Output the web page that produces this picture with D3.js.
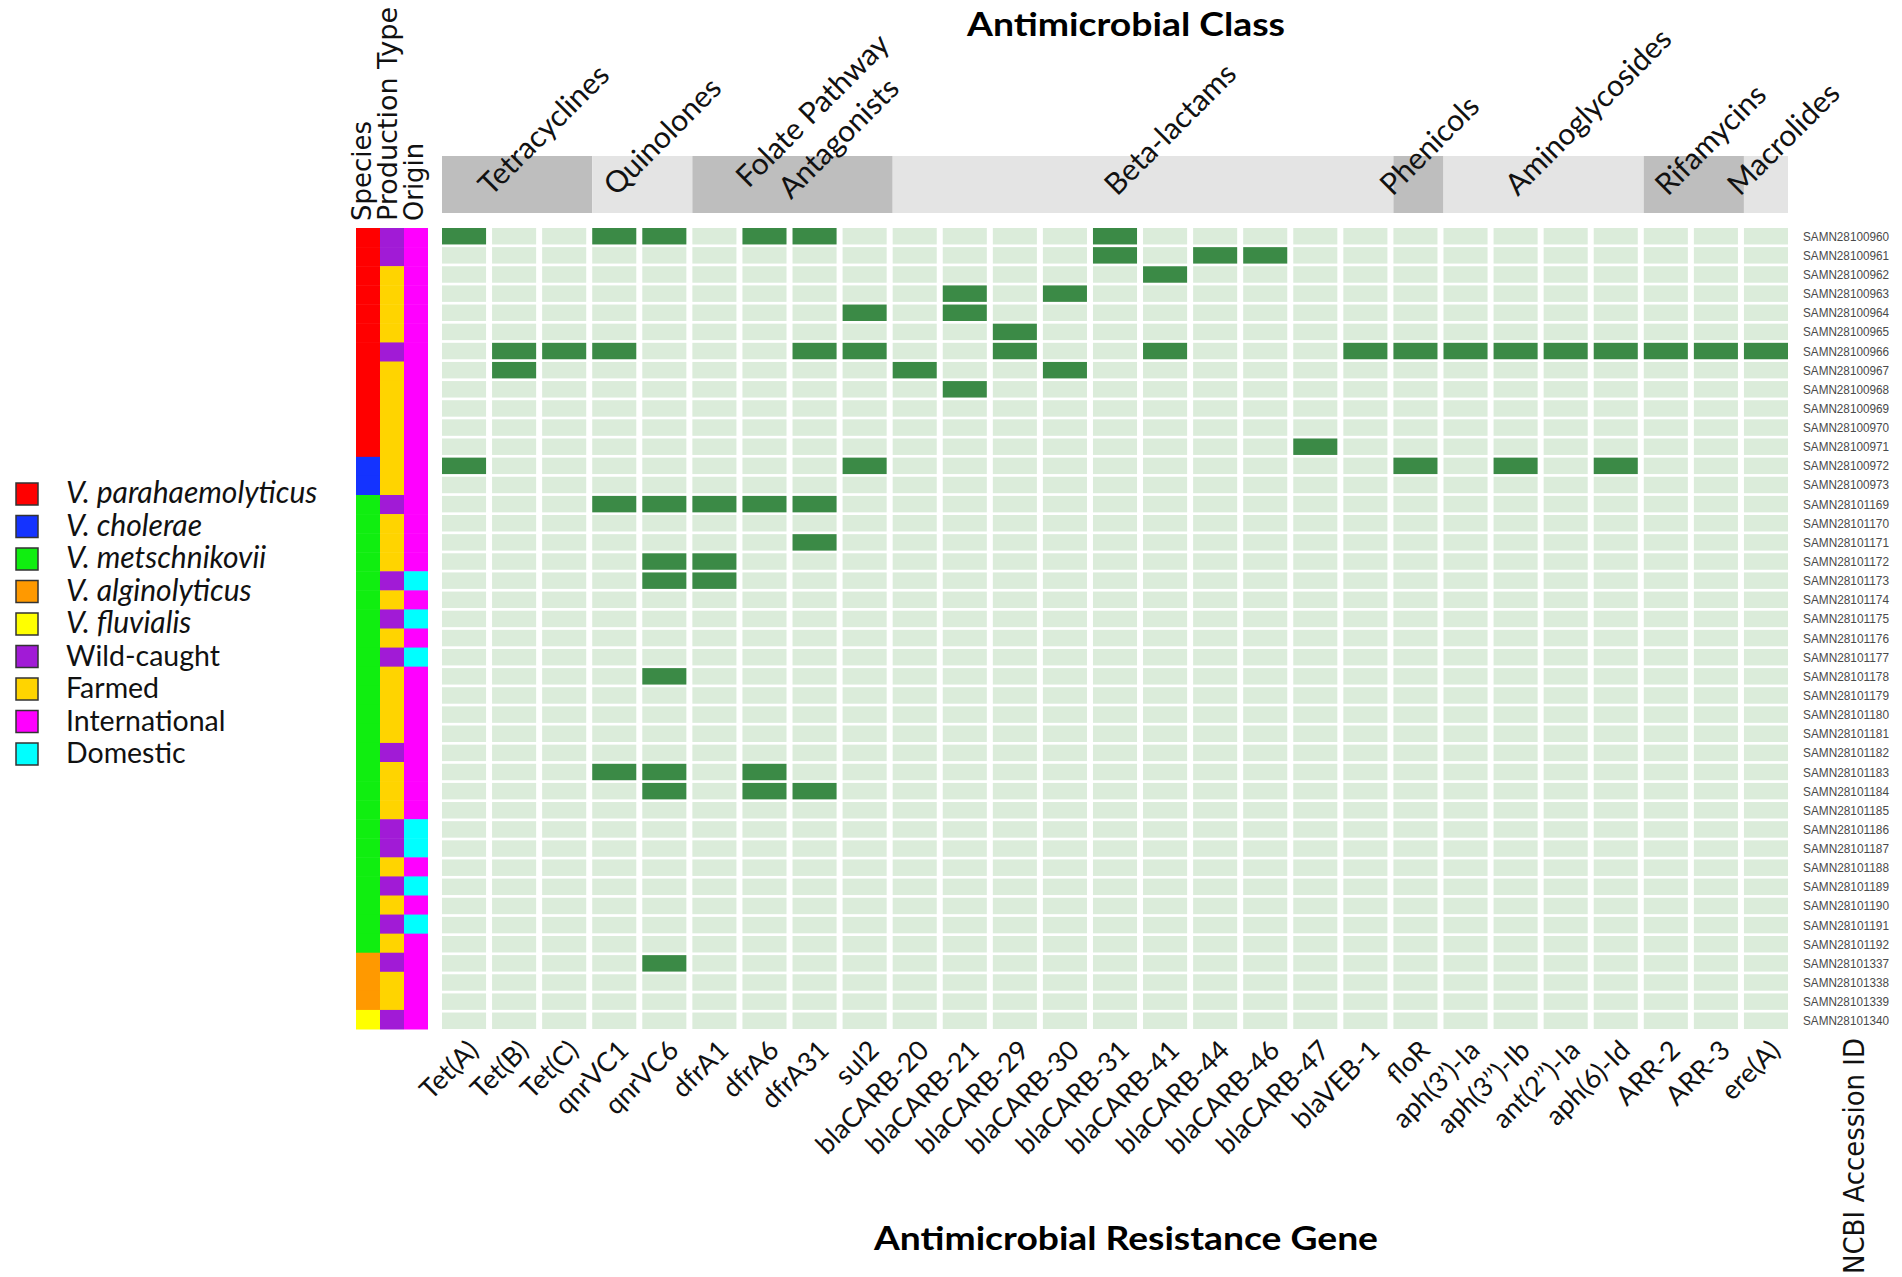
<!DOCTYPE html>
<html><head><meta charset="utf-8">
<script src="https://cdn.jsdelivr.net/npm/d3@7"></script>
<style>html,body{margin:0;padding:0;background:#fff;}svg{display:block;}</style>
</head><body>
<script>
// ---------- data ----------
const genes = ["Tet(A)","Tet(B)","Tet(C)","qnrVC1","qnrVC6","dfrA1","dfrA6","dfrA31","sul2",
  "blaCARB-20","blaCARB-21","blaCARB-29","blaCARB-30","blaCARB-31","blaCARB-41","blaCARB-44",
  "blaCARB-46","blaCARB-47","blaVEB-1","floR","aph(3\u2019)-Ia","aph(3\u2019\u2019)-Ib",
  "ant(2\u2019\u2019)-Ia","aph(6)-Id","ARR-2","ARR-3","ere(A)"];
const classNames = ["Tetracyclines","Quinolones","Folate Pathway|Antagonists","Beta-lactams",
  "Phenicols","Aminoglycosides","Rifamycins","Macrolides"];
const classGeneCounts = [3,2,4,10,1,4,2,1];
const samples = ["SAMN28100960","SAMN28100961","SAMN28100962","SAMN28100963","SAMN28100964",
  "SAMN28100965","SAMN28100966","SAMN28100967","SAMN28100968","SAMN28100969","SAMN28100970",
  "SAMN28100971","SAMN28100972","SAMN28100973","SAMN28101169","SAMN28101170","SAMN28101171",
  "SAMN28101172","SAMN28101173","SAMN28101174","SAMN28101175","SAMN28101176","SAMN28101177",
  "SAMN28101178","SAMN28101179","SAMN28101180","SAMN28101181","SAMN28101182","SAMN28101183",
  "SAMN28101184","SAMN28101185","SAMN28101186","SAMN28101187","SAMN28101188","SAMN28101189",
  "SAMN28101190","SAMN28101191","SAMN28101192","SAMN28101337","SAMN28101338","SAMN28101339",
  "SAMN28101340"];
// species: P=parahaemolyticus C=cholerae M=metschnikovii A=alginolyticus F=fluvialis
const speciesOfSample = "PPPPPPPPPPPPCCMMMMMMMMMMMMMMMMMMMMMMMMAAAF".split("");
// production: W=wild-caught F=farmed
const productionOfSample = "WWFFFFWFFFFFFFWFFFWFWFWFFFFWFFFWWFWFWFWFFW".split("");
// origin: I=international D=domestic
const originOfSample = "IIIIIIIIIIIIIIIIIIDIDIDIIIIIIIIDDIDIDIIIII".split("");
// genes detected in each sample (same order as samples)
const detected = [
  ["Tet(A)","qnrVC1","qnrVC6","dfrA6","dfrA31","blaCARB-31"],
  ["blaCARB-31","blaCARB-44","blaCARB-46"],
  ["blaCARB-41"],
  ["blaCARB-21","blaCARB-30"],
  ["sul2","blaCARB-21"],
  ["blaCARB-29"],
  ["Tet(B)","Tet(C)","qnrVC1","dfrA31","sul2","blaCARB-29","blaCARB-41","blaVEB-1","floR",
   "aph(3\u2019)-Ia","aph(3\u2019\u2019)-Ib","ant(2\u2019\u2019)-Ia","aph(6)-Id","ARR-2","ARR-3","ere(A)"],
  ["Tet(B)","blaCARB-20","blaCARB-30"],
  ["blaCARB-21"],
  [],[],
  ["blaCARB-47"],
  ["Tet(A)","sul2","floR","aph(3\u2019\u2019)-Ib","aph(6)-Id"],
  [],
  ["qnrVC1","qnrVC6","dfrA1","dfrA6","dfrA31"],
  [],
  ["dfrA31"],
  ["qnrVC6","dfrA1"],
  ["qnrVC6","dfrA1"],
  [],[],[],[],
  ["qnrVC6"],
  [],[],[],[],
  ["qnrVC1","qnrVC6","dfrA6"],
  ["qnrVC6","dfrA6","dfrA31"],
  [],[],[],[],[],[],[],[],
  ["qnrVC6"],
  [],[],[]
];
const legendKeys = ["P","C","M","A","F","W","Fa","I","D"];
const legendLabels = ["V. parahaemolyticus","V. cholerae","V. metschnikovii","V. alginolyticus",
  "V. fluvialis","Wild-caught","Farmed","International","Domestic"];
const legendItalic = [true,true,true,true,true,false,false,false,false];
const annTracks = ["Species","Production Type","Origin"];

// ---------- styles ----------
const speciesColor = {P:"#ff0000",C:"#1433ff",M:"#10ee10",A:"#ff9900",F:"#ffff00"};
const prodColor = {W:"#a11bd6",F:"#ffd400"};
const originColor = {I:"#ff00ff",D:"#00ffff"};
const legendColor = {P:"#ff0000",C:"#1433ff",M:"#10ee10",A:"#ff9900",F:"#ffff00",
  W:"#a11bd6",Fa:"#ffd400",I:"#ff00ff",D:"#00ffff"};
const onColor = "#3b8a46", offColor = "#dbecda";
const bandDark = "#bebebe", bandLight = "#e4e4e4";

const W = 1902, H = 1277;
const svg = d3.select("body").append("svg").attr("width", W).attr("height", H)
  .style("font-family", "Lato, 'Open Sans', sans-serif");

const x = d3.scaleBand().domain(genes).range([442, 1788]).paddingInner(0.12);
const y = d3.scaleBand().domain(samples).range([228, 1029]).paddingInner(0.14);
const yAnn = d3.scaleBand().domain(samples).range([228, 1029]);
const xAnn = d3.scaleBand().domain(annTracks).range([356, 428]);

// ---------- heatmap ----------
const cells = [];
samples.forEach((s, i) => genes.forEach(g => cells.push({s, g, on: detected[i].includes(g)})));
svg.append("g").selectAll("rect").data(cells).join("rect")
  .attr("x", d => x(d.g)).attr("y", d => y(d.s))
  .attr("width", x.bandwidth()).attr("height", y.bandwidth())
  .attr("fill", d => d.on ? onColor : offColor);

// ---------- annotation tracks ----------
const ann = svg.append("g");
const trackData = [
  {t:"Species", vals: speciesOfSample, col: speciesColor},
  {t:"Production Type", vals: productionOfSample, col: prodColor},
  {t:"Origin", vals: originOfSample, col: originColor}];
trackData.forEach(tr => {
  ann.append("g").selectAll("rect").data(samples).join("rect")
    .attr("x", xAnn(tr.t)).attr("y", d => yAnn(d))
    .attr("width", xAnn.bandwidth()).attr("height", yAnn.bandwidth() + 0.5)
    .attr("fill", (d, i) => tr.col[tr.vals[i]]);
});
// track titles (vertical)
const trackBaseline = {"Species": 371, "Production Type": 397, "Origin": 423};
const trackLen = {"Species": 100, "Production Type": 214, "Origin": 78};
annTracks.forEach(t => {
  svg.append("text")
    .attr("transform", `translate(${trackBaseline[t]},221) rotate(-90)`)
    .attr("font-family", "'DejaVu Sans', sans-serif").attr("font-size", 26)
    .attr("textLength", trackLen[t]).attr("lengthAdjust", "spacingAndGlyphs")
    .attr("fill", "#111").text(t);
});

// ---------- class band ----------
let start = 0;
const bands = classNames.map((name, i) => {
  const n = classGeneCounts[i];
  const g0 = genes[start];
  const last = i === classNames.length - 1;
  const x0 = x(g0);
  const x1 = last ? x(genes[start + n - 1]) + x.bandwidth() : x(genes[start + n]);
  start += n;
  return {name, x0, x1, i};
});
svg.append("g").selectAll("rect").data(bands).join("rect")
  .attr("x", d => d.x0).attr("y", 156).attr("width", d => d.x1 - d.x0).attr("height", 57)
  .attr("fill", d => d.i % 2 === 0 ? bandDark : bandLight);
bands.forEach(b => {
  const lines = b.name.split("|");
  const cx = (b.x0 + b.x1) / 2;
  const t = svg.append("text").attr("font-size", 30).attr("fill", "#111");
  if (lines.length === 1) {
    t.attr("transform", `translate(${cx - 26},197) rotate(-45)`).text(lines[0]);
  } else {
    t.attr("transform", `translate(${cx - 44},189) rotate(-45)`);
    t.append("tspan").attr("x", 0).attr("y", 0).text(lines[0]);
    t.append("tspan").attr("x", 22).attr("y", 38).text(lines[1]);
  }
});

// ---------- gene labels (bottom axis) ----------
svg.append("g").selectAll("text").data(genes).join("text")
  .attr("transform", d => `translate(${x(d) + x.bandwidth() / 2 + 16},1052) rotate(-45)`)
  .attr("text-anchor", "end").attr("font-size", 27).attr("fill", "#111")
  .text(d => d);

// ---------- sample labels (right axis) ----------
svg.append("g").selectAll("text").data(samples).join("text")
  .attr("x", 1803).attr("y", d => y(d) + y.bandwidth() / 2).attr("dy", "0.36em")
  .attr("font-family", "'Liberation Sans', Arial, sans-serif").attr("font-size", 12.5)
  .attr("textLength", 86).attr("lengthAdjust", "spacingAndGlyphs")
  .attr("fill", "#4a4a4a").text(d => d);

// ---------- titles ----------
svg.append("text").attr("x", 1126).attr("y", 36).attr("text-anchor", "middle")
  .attr("font-size", 33).attr("font-weight", 700).attr("fill", "#000")
  .attr("textLength", 318).attr("lengthAdjust", "spacingAndGlyphs")
  .text("Antimicrobial Class");
svg.append("text").attr("x", 1126).attr("y", 1250).attr("text-anchor", "middle")
  .attr("font-size", 33).attr("font-weight", 700).attr("fill", "#000")
  .attr("textLength", 504).attr("lengthAdjust", "spacingAndGlyphs")
  .text("Antimicrobial Resistance Gene");
svg.append("text").attr("transform", "translate(1864,1274) rotate(-90)")
  .attr("font-family", "'DejaVu Sans', sans-serif").attr("font-size", 29)
  .attr("textLength", 236).attr("lengthAdjust", "spacingAndGlyphs")
  .attr("fill", "#111").text("NCBI Accession ID");

// ---------- legend ----------
const lg = svg.append("g");
legendKeys.forEach((k, i) => {
  const cy = 494 + i * 32.5;
  lg.append("rect").attr("x", 16).attr("y", cy - 11).attr("width", 22).attr("height", 22)
    .attr("fill", legendColor[k]).attr("stroke", "#333").attr("stroke-width", 1.5);
  lg.append("text").attr("x", 66).attr("y", cy + 9).attr("font-size", legendItalic[i] ? 30 : 28.5)
    .attr("font-style", legendItalic[i] ? "italic" : "normal").attr("fill", "#111")
    .text(legendLabels[i]);
});
</script>
</body></html>
